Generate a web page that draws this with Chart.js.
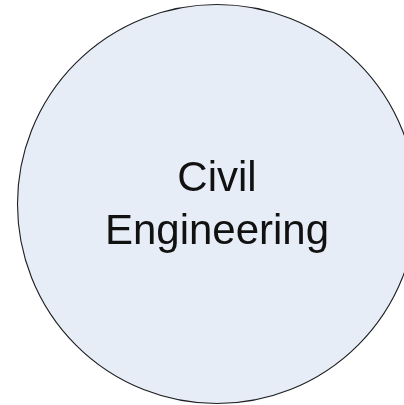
<!DOCTYPE html>
<html>
<head>
<meta charset="utf-8">
<script src="https://cdn.jsdelivr.net/npm/chart.js@4"></script>
<style>
  html, body { margin: 0; padding: 0; background: #ffffff; overflow: hidden; }
  #wrap { position: relative; width: 404px; height: 405px; }
</style>
</head>
<body>
<div id="wrap"><canvas id="c" width="404" height="405"></canvas></div>
<script>
const categories = ['Civil Engineering'];
const labelLines = ['Civil', 'Engineering'];
const values = [1];

const outlineAndText = {
  id: 'outlineAndText',
  afterDatasetsDraw(chart) {
    const arc = chart.getDatasetMeta(0).data[0];
    if (!arc) return;
    const ctx = chart.ctx;
    ctx.save();
    ctx.beginPath();
    ctx.arc(arc.x, arc.y, arc.outerRadius - 0.5, 0, Math.PI * 2);
    ctx.strokeStyle = '#1e1e1e';
    ctx.lineWidth = 1.1;
    ctx.stroke();
    ctx.fillStyle = '#111111';
    ctx.font = '42px "Liberation Sans", Arial, sans-serif';
    ctx.textAlign = 'center';
    ctx.textBaseline = 'alphabetic';
    const lh = 53.6;
    const firstBase = arc.y - 13.3;
    labelLines.forEach((t, i) => ctx.fillText(t, arc.x, firstBase + i * lh));
    ctx.restore();
  }
};

new Chart(document.getElementById('c'), {
  type: 'pie',
  data: {
    labels: categories,
    datasets: [{
      data: values,
      backgroundColor: '#E7EDF7',
      borderWidth: 0,
      clip: false
    }]
  },
  options: {
    responsive: false,
    animation: false,
    radius: 200,
    layout: { padding: { left: 30, right: 0, top: 3, bottom: 0 } },
    plugins: {
      legend: { display: false },
      tooltip: { enabled: false }
    }
  },
  plugins: [outlineAndText]
});
</script>
</body>
</html>
